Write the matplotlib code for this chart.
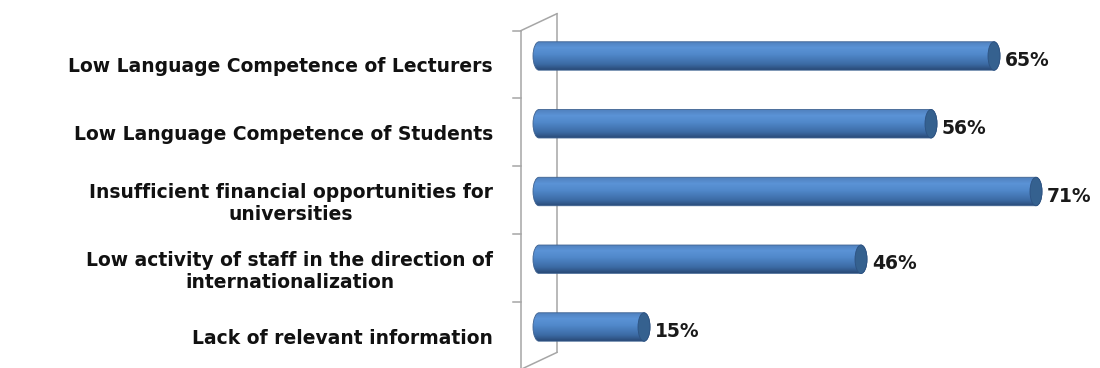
import numpy as np
import matplotlib.pyplot as plt
from matplotlib.path import Path
from matplotlib.patches import PathPatch, Ellipse
from matplotlib.colors import LinearSegmentedColormap

# problems, top to bottom
categories = [
    'Low Language Competence of Lecturers',
    'Low Language Competence of Students',
    'Insufficient financial opportunities for\nuniversities',
    'Low activity of staff in the direction of\ninternationalization',
    'Lack of relevant information',
]
values = [65, 56, 71, 46, 15]
value_labels = ['65%', '56%', '71%', '46%', '15%']

W, H, DPI = 1100, 368, 100
fig = plt.figure(figsize=(W / DPI, H / DPI), dpi=DPI)
ax = fig.add_axes([500 / W, 0, 600 / W, 1])

px_per_unit = 7.0          # x: pixels per percent
py_per_unit = 67.75        # y: pixels per category
x_zero_px = 539 - 500
xmin = -x_zero_px / px_per_unit
xmax = (600 - x_zero_px) / px_per_unit
ytop = -56 / py_per_unit
ybot = (H - 56) / py_per_unit

bar_h = 0.42
cap_a = 6.0 / px_per_unit   # half-width of the cylinder end cap
depth = 0.125               # vertical shift between front and back planes
dx = 18.0 / px_per_unit     # horizontal half-depth of the wall

grad = LinearSegmentedColormap.from_list('cyl', [
    (0.0, '#4f80bd'), (0.22, '#5b93d6'), (0.45, '#5189cb'),
    (0.8, '#3c6ba5'), (1.0, '#2a4b78')])

bars = ax.barh(range(len(values)), values, height=bar_h, color='none')
k = 0.5523
for rect, lab in zip(bars, value_labels):
    x0, y0 = rect.get_x(), rect.get_y()
    w, h = rect.get_width(), rect.get_height()
    yc = y0 + h / 2
    b = h / 2
    x1 = x0 + w
    # outline: rounded left end, elliptical right end
    verts = [
        (x0, y0),
        (x0 - k * cap_a, y0), (x0 - cap_a, yc - k * b), (x0 - cap_a, yc),
        (x0 - cap_a, yc + k * b), (x0 - k * cap_a, y0 + h), (x0, y0 + h),
        (x1, y0 + h),
        (x1 + k * cap_a, y0 + h), (x1 + cap_a, yc + k * b), (x1 + cap_a, yc),
        (x1 + cap_a, yc - k * b), (x1 + k * cap_a, y0), (x1, y0),
        (x0, y0),
    ]
    codes = [Path.MOVETO] + [Path.CURVE4] * 6 + [Path.LINETO] + \
            [Path.CURVE4] * 6 + [Path.CLOSEPOLY]
    outline = PathPatch(Path(verts, codes), facecolor='none',
                        edgecolor='#3d6190', lw=0.6, zorder=3)
    ax.add_patch(outline)
    g = np.linspace(0, 1, 64).reshape(-1, 1)
    im = ax.imshow(g, cmap=grad, aspect='auto', origin='upper',
                   extent=(x0 - cap_a, x1 + cap_a, y0 + h, y0),
                   interpolation='bilinear', zorder=2)
    im.set_clip_path(outline)
    cap = Ellipse((x1, yc), 2 * cap_a, h, facecolor='#35618f',
                  edgecolor='#2d5281', lw=0.6, zorder=4)
    ax.add_patch(cap)
    ax.text(x1 + cap_a + 5 / px_per_unit, yc + 0.07, lab,
            ha='left', va='center', fontsize=13.5, fontweight='bold',
            color='#1a1a1a', family='DejaVu Sans')

# side wall of the 3-D frame
wall = '#a6a6a6'
n = len(values)
yf0, yf1 = -0.5 + depth, n - 0.5 + depth
yb0, yb1 = -0.5 - depth, n - 0.5 - depth
ax.plot([-dx, -dx], [yf0, yf1], color=wall, lw=1.1, clip_on=False, zorder=1)
ax.plot([dx, dx], [yb0, yb1], color=wall, lw=1.1, clip_on=False, zorder=1)
ax.plot([-dx, dx], [yf0, yb0], color=wall, lw=1.1, clip_on=False, zorder=1)
ax.plot([-dx, dx], [yf1, yb1], color=wall, lw=1.1, clip_on=False, zorder=1)
for i in range(n + 1):
    yt = i - 0.5 + depth
    ax.plot([-dx - 8 / px_per_unit, -dx], [yt, yt], color=wall, lw=1.1,
            clip_on=False, zorder=1)

ax.set_xlim(xmin, xmax)
ax.set_ylim(ybot, ytop)
ax.set_xticks([])
ax.set_yticks(np.arange(n) + 9 / py_per_unit)
ax.set_yticklabels(categories, fontsize=13.5, fontweight='bold',
                   family='DejaVu Sans', color='#111111')
for t in ax.get_yticklabels():
    t.set_multialignment('center')
    t.set_linespacing(1.2)
ax.tick_params(axis='y', length=0, pad=5)
for s in ax.spines.values():
    s.set_visible(False)
ax.patch.set_alpha(0)

fig.savefig('out.png', dpi=DPI)
